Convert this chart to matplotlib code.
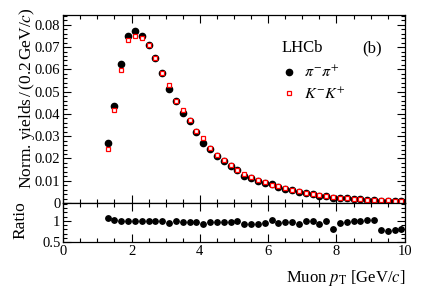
import numpy as np
import matplotlib.pyplot as plt
from matplotlib.ticker import MultipleLocator

plt.rcParams['font.family'] = ['Liberation Serif', 'DejaVu Serif']
plt.rcParams['mathtext.fontset'] = 'stix'

# bin centres of muon pT [GeV/c]
pt = [1.3, 1.5, 1.7, 1.9, 2.1, 2.3, 2.5, 2.7, 2.9, 3.1, 3.3, 3.5, 3.7, 3.9, 4.1,
      4.3, 4.5, 4.7, 4.9, 5.1, 5.3, 5.5, 5.7, 5.9, 6.1, 6.3, 6.5, 6.7, 6.9, 7.1,
      7.3, 7.5, 7.7, 7.9, 8.1, 8.3, 8.5, 8.7, 8.9, 9.1, 9.3, 9.5, 9.7, 9.9]

pipi = [0.0268, 0.0436, 0.0626, 0.0752, 0.0770, 0.0752, 0.0709, 0.0649, 0.0583,
        0.0510, 0.0458, 0.0402, 0.0370, 0.0321, 0.0271, 0.0244, 0.0211, 0.0190,
        0.0168, 0.0146, 0.0123, 0.0112, 0.0101, 0.0090, 0.0086, 0.0072, 0.0065,
        0.0057, 0.0049, 0.0044, 0.0039, 0.0032, 0.0030, 0.0022, 0.0023, 0.0021,
        0.0019, 0.0017, 0.0015, 0.0014, 0.0010, 0.0009, 0.0008, 0.0007]

kk = [0.0241, 0.0418, 0.0596, 0.0731, 0.0749, 0.0739, 0.0709, 0.0649, 0.0583,
      0.0532, 0.0458, 0.0417, 0.0372, 0.0323, 0.0292, 0.0249, 0.0215, 0.0193,
      0.0170, 0.0148, 0.0132, 0.0118, 0.0105, 0.0094, 0.0079, 0.0075, 0.0066,
      0.0058, 0.0053, 0.0044, 0.0039, 0.0035, 0.0030, 0.0028, 0.0024, 0.0022,
      0.0019, 0.0017, 0.0015, 0.0014, 0.0013, 0.0012, 0.0010, 0.0009]

ratio = [1.07, 1.02, 1.01, 1.01, 1.01, 1.00, 1.00, 1.00, 0.99, 0.95, 0.99, 0.97,
         0.98, 0.98, 0.92, 0.97, 0.98, 0.98, 0.98, 0.99, 0.93, 0.94, 0.94, 0.95,
         1.03, 0.95, 0.98, 0.97, 0.92, 1.00, 0.99, 0.92, 1.01, 0.80, 0.96, 0.97,
         1.01, 1.01, 1.02, 1.03, 0.78, 0.77, 0.79, 0.80]

ratio_err = [0.01, 0.01, 0.01, 0.01, 0.01, 0.01, 0.01, 0.01, 0.01, 0.01, 0.01, 0.01,
             0.01, 0.01, 0.01, 0.01, 0.01, 0.01, 0.01, 0.01, 0.01, 0.01, 0.01, 0.01,
             0.02, 0.02, 0.02, 0.02, 0.02, 0.02, 0.02, 0.02, 0.03, 0.03, 0.03, 0.03,
             0.04, 0.04, 0.04, 0.05, 0.05, 0.06, 0.06, 0.07]

fig = plt.figure(figsize=(4.27, 2.90), dpi=100)
ax = fig.add_axes([0.148, 0.300, 0.800, 0.649])
axr = fig.add_axes([0.148, 0.1645, 0.800, 0.1355])

ax.plot(pt, pipi, 'o', color='black', ms=4.5, label=r'$\pi^{-}\pi^{+}$', zorder=2)
ax.plot(pt, kk, 's', mfc='white', mec='red', mew=0.9, ms=3.3,
        label=r'$K^{-}K^{+}$', zorder=3)

axr.errorbar(pt, ratio, yerr=ratio_err, fmt='o', color='black', ms=3.9,
             elinewidth=1.0, capsize=0)

ax.set_xlim(0, 10)
ax.set_ylim(0, 0.0845)
axr.set_xlim(0, 10)
axr.set_ylim(0.5, 1.42)

for a in (ax, axr):
    a.tick_params(which='both', direction='in', top=True, right=True,
                  labelsize=10.5, width=0.8, pad=2)
    a.tick_params(which='major', length=6)
    a.tick_params(which='minor', length=3)
    a.xaxis.set_major_locator(MultipleLocator(2))
    a.xaxis.set_minor_locator(MultipleLocator(0.5))
    for s in a.spines.values():
        s.set_linewidth(0.9)

ax.yaxis.set_minor_locator(MultipleLocator(0.002))
ax.set_yticks(np.arange(0, 0.081, 0.01))
ax.set_yticklabels(['0', '0.01', '0.02', '0.03', '0.04', '0.05', '0.06', '0.07', '0.08'])
ax.tick_params(labelbottom=False)

axr.set_yticks([0.5, 1.0])
axr.set_yticklabels(['0.5', '1'])
axr.yaxis.set_minor_locator(MultipleLocator(0.1))
axr.set_xticks([0, 2, 4, 6, 8, 10])
axr.set_xticklabels(['0', '2', '4', '6', '8', '10'])

fig.text(0.950, 0.041, r'Muon $p_{\mathrm{T}}$ [GeV/$c$]', ha='right', va='center', fontsize=12)
fig.text(0.063, 0.975, r'Norm. yields$\,$/$\,$(0.2$\,$GeV/$c$)', rotation=90,
         ha='center', va='top', fontsize=12.5)
fig.text(0.049, 0.241, 'Ratio', rotation=90, ha='center', va='center', fontsize=12.5)

fig.text(0.660, 0.834, 'LHCb', fontsize=12, va='center')
fig.text(0.848, 0.834, '(b)', fontsize=12, va='center')

ax.legend(loc='upper left', bbox_to_anchor=(0.658, 0.775), bbox_transform=fig.transFigure,
          frameon=False, fontsize=11.5, handlelength=1.0, handletextpad=0.45,
          labelspacing=0.35, borderpad=0, borderaxespad=0)

fig.savefig('out.png', dpi=100)
